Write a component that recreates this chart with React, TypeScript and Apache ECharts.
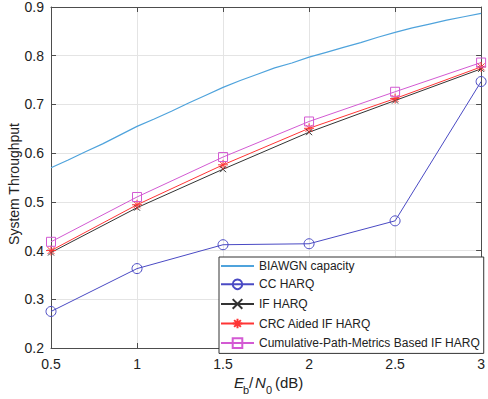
import React, { useEffect, useRef } from "react";
import * as echarts from "echarts";

const ebn0 = [0.5, 1, 1.5, 2, 2.5, 3];
const capX = [0.5, 0.6, 0.7, 0.8, 0.9, 1.0, 1.1, 1.2, 1.3, 1.4, 1.5, 1.6, 1.7, 1.8, 1.9, 2.0, 2.1, 2.2, 2.3, 2.4, 2.5, 2.6, 2.7, 2.8, 2.9, 3.0];
const capacity = [0.570, 0.586, 0.603, 0.619, 0.637, 0.655, 0.670, 0.686, 0.703, 0.719, 0.735, 0.749, 0.762, 0.775, 0.785, 0.797, 0.807, 0.817, 0.827, 0.838, 0.848, 0.857, 0.865, 0.873, 0.880, 0.887];
const ccHarq = [0.275, 0.363, 0.412, 0.414, 0.461, 0.747];
const ifHarq = [0.396, 0.488, 0.567, 0.643, 0.708, 0.773];
const crcHarq = [0.400, 0.494, 0.576, 0.651, 0.712, 0.777];
const cpmHarq = [0.418, 0.510, 0.592, 0.665, 0.726, 0.786];
const names = ["BIAWGN capacity", "CC HARQ", "IF HARQ", "CRC Aided IF HARQ", "Cumulative-Path-Metrics Based IF HARQ"];
const yTicks = { min: 0.2, max: 0.9, interval: 0.1 };
const xTicks = { min: 0.5, max: 3, interval: 0.5 };

const FONT = "'Liberation Sans', Arial, Helvetica, sans-serif";
const X_PATH = "path://M0,0L10,10M10,0L0,10";
const STAR_PATH = "path://M5,0L5,10M0,5L10,5M1.5,1.5L8.5,8.5M8.5,1.5L1.5,8.5";

function pairs(xs: number[], ys: number[]) {
  return xs.map((x, i) => [x, ys[i]]);
}

export default function App() {
  const ref = useRef<HTMLDivElement>(null);
  useEffect(() => {
    document.body.style.margin = "0";
    const chart = echarts.init(ref.current!, undefined, { renderer: "svg" });
    const axisLine = { show: true, lineStyle: { color: "#4d4d4d", width: 1 } };
    const tick = { show: true, inside: true, length: 5, lineStyle: { color: "#4d4d4d" } };
    const mk = (name: string, data: number[], color: string, symbol: string, size: number) => ({
      name,
      type: "line",
      data: pairs(ebn0, data),
      symbol,
      symbolSize: size,
      showSymbol: true,
      lineStyle: { color, width: 1 },
      itemStyle: { color: "none", borderColor: color, borderWidth: 1 },
    });
    chart.setOption({
      animation: false,
      textStyle: { fontFamily: FONT },
      grid: { left: 51, top: 7, right: 2, bottom: 51 },
      xAxis: [
        {
          type: "value", ...xTicks, position: "bottom",
          axisLine, axisTick: tick,
          axisLabel: { color: "#222", fontSize: 14, margin: 9, fontFamily: FONT },
          splitLine: { show: true, lineStyle: { color: "#e4e4e4" } },
        },
        {
          type: "value", ...xTicks, position: "top",
          axisLine, axisTick: tick, axisLabel: { show: false }, splitLine: { show: false },
        },
      ],
      yAxis: [
        {
          type: "value", ...yTicks, position: "left",
          axisLine, axisTick: tick,
          axisLabel: { color: "#222", fontSize: 14, margin: 7, fontFamily: FONT, formatter: (v: number) => v.toFixed(1) },
          splitLine: { show: true, lineStyle: { color: "#e4e4e4" } },
        },
        {
          type: "value", ...yTicks, position: "right",
          axisLine, axisTick: tick, axisLabel: { show: false }, splitLine: { show: false },
        },
      ],
      legend: {
        orient: "vertical",
        left: 219,
        top: 257,
        padding: [3, 4, 3, 1],
        itemGap: 5,
        itemWidth: 33,
        itemHeight: 12,
        backgroundColor: "#fff",
        borderColor: "#333",
        borderWidth: 1,
        textStyle: { color: "#222", fontSize: 12, fontFamily: FONT },
        data: [
          { name: names[0], itemStyle: { opacity: 0 } },
          names[1], names[2], names[3], names[4],
        ],
      },
      series: [
        {
          name: names[0],
          type: "line",
          data: pairs(capX, capacity),
          symbol: "none",
          lineStyle: { color: "#4fa3dc", width: 1.2 },
          itemStyle: { color: "#4fa3dc" },
        },
        mk(names[1], ccHarq, "#4a4ac4", "circle", 10),
        mk(names[2], ifHarq, "#333333", X_PATH, 6),
        mk(names[3], crcHarq, "#ff3535", STAR_PATH, 10),
        mk(names[4], cpmHarq, "#d35ad3", "rect", 9),
      ],
      graphic: [
        {
          type: "text",
          x: 14,
          y: 184,
          rotation: Math.PI / 2,
          style: { text: "System Throughput", font: `14px ${FONT}`, fill: "#222", align: "center", verticalAlign: "middle" },
        },
        {
          type: "group",
          children: [
            { type: "text", x: 234, y: 390, style: { text: "E", font: `italic 15px ${FONT}`, fill: "#222", verticalAlign: "bottom" } },
            { type: "text", x: 243, y: 395, style: { text: "b", font: `11px ${FONT}`, fill: "#222", verticalAlign: "bottom" } },
            { type: "text", x: 249, y: 390, style: { text: "/", font: `15px ${FONT}`, fill: "#222", verticalAlign: "bottom" } },
            { type: "text", x: 255, y: 390, style: { text: "N", font: `italic 15px ${FONT}`, fill: "#222", verticalAlign: "bottom" } },
            { type: "text", x: 266, y: 395, style: { text: "0", font: `11px ${FONT}`, fill: "#222", verticalAlign: "bottom" } },
            { type: "text", x: 275, y: 390, style: { text: "(dB)", font: `15px ${FONT}`, fill: "#222", verticalAlign: "bottom" } },
          ],
        },
      ],
    });
    return () => chart.dispose();
  }, []);
  return <div ref={ref} style={{ width: 488, height: 399 }} />;
}
